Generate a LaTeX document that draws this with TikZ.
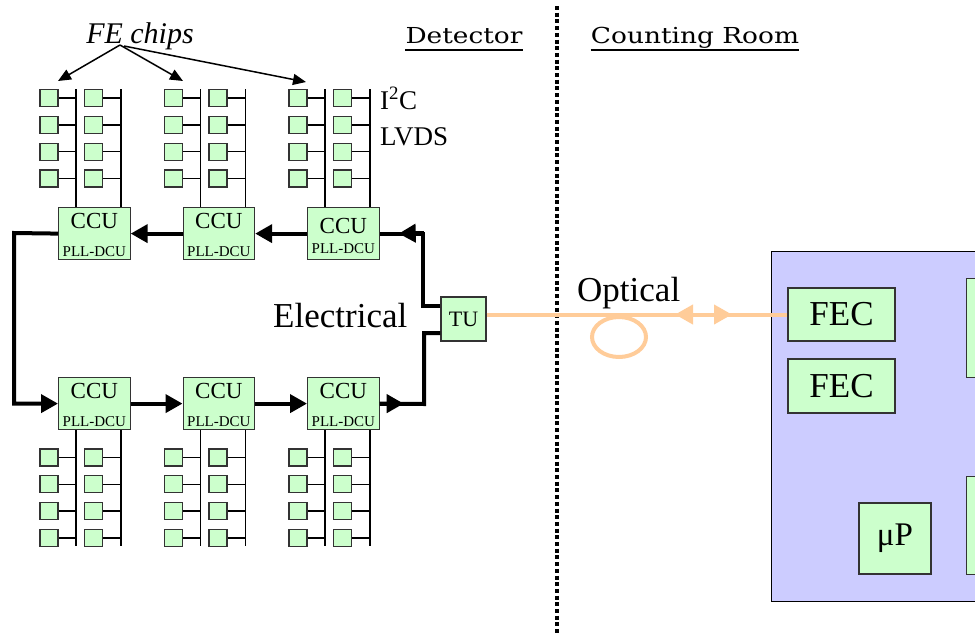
\documentclass[tikz,border=0pt]{standalone}
\usepackage{fontspec}
\setmainfont{Liberation Serif}
\newfontfamily\widefont[FakeStretch=1.2]{DejaVu Serif}
\usetikzlibrary{arrows.meta,calc}
\definecolor{chipg}{HTML}{CCFFCC}
\definecolor{panelb}{HTML}{CCCCFF}
\definecolor{optc}{HTML}{FFCC99}
\definecolor{edgec}{HTML}{333333}
\newcommand\myfs[1]{\fontsize{#1}{#1}\selectfont}
\begin{document}
\begin{tikzpicture}[x=1pt,y=-1pt,line join=miter,
  chip/.style={draw=edgec,fill=chipg,line width=1.2pt,minimum width=18pt,minimum height=17pt,inner sep=0pt},
  bus/.style={line width=1.6pt},
  ccubox/.style={draw=edgec,fill=chipg,line width=1.2pt,minimum width=71.5pt,minimum height=52pt,inner sep=0pt},
  ccutext/.style={inner sep=0pt,font=\myfs{23}},
  plltext/.style={inner sep=0pt,font=\myfs{15}},
  ring/.style={line width=4pt},
  ringarrow/.style={line width=4pt,-{Triangle[length=17pt,width=18pt]}},
  opt/.style={draw=optc,line width=4pt},
  optarrow/.style={draw=optc,line width=4pt,-{Triangle[length=18pt,width=19pt]}},
  bigbox/.style={draw=edgec,fill=chipg,line width=1.2pt,inner sep=0pt,font=\myfs{35}},
  hdr/.style={inner sep=0pt,font=\widefont\myfs{22}},
  feline/.style={line width=1.5pt,-{Triangle[length=13pt,width=11pt]}}
]
\useasboundingbox (0,0) rectangle (975,635);
\clip (0,0) rectangle (975,635);
\fill[white] (0,0) rectangle (975,635);

% right panel
\node[draw=black,fill=panelb,line width=1.2pt,anchor=north west,minimum width=240pt,minimum height=350pt,inner sep=0pt] (panel) at (771,251) {};
\node[bigbox,minimum width=107pt,minimum height=53pt] (fec1) at (841.5,314.5) {FEC};
\node[bigbox,minimum width=107pt,minimum height=54pt] (fec2) at (841.5,386) {FEC};
\node[bigbox,minimum width=72pt,minimum height=71pt,font=\myfs{33}] (up) at (895,538.5) {μP};
\node[bigbox,anchor=north west,minimum width=60pt,minimum height=99pt] (r1) at (966,278) {};
\node[bigbox,anchor=north west,minimum width=60pt,minimum height=98pt] (r2) at (966,476) {};

% dotted separator
\draw[line width=4pt,dash pattern=on 4pt off 2.7pt] (557,6) -- (557,635);

% headers
\node[hdr,anchor=base] (det) at (464,43) {Detector};
\node[hdr,anchor=base] (cnt) at (695,43) {Counting Room};
\draw[line width=1.6pt] ($(det.base west)+(0,7)$) -- ($(det.base east)+(0,7)$);
\draw[line width=1.6pt] ($(cnt.base west)+(0,7)$) -- ($(cnt.base east)+(0,7)$);

% CCU boxes and FE chips
\foreach \g in {1,2,3}{
  \pgfmathsetmacro{\L}{58+124.5*(\g-1)}
  \node[ccubox,anchor=north west] (t\g) at (\L,207) {};
  \node[ccubox,anchor=north west] (b\g) at (\L,377) {};
  \draw[bus] ($(t\g.north west)+(18,0)$) -- ++(0,-118);
  \draw[bus] ($(t\g.north west)+(63,0)$) -- ++(0,-118);
  \draw[bus] ($(b\g.south west)+(18,0)$) -- ++(0,116);
  \draw[bus] ($(b\g.south west)+(63,0)$) -- ++(0,116);
  \node[ccutext,anchor=base] (b\g-c) at ($(b\g.north)+(0,21)$) {CCU};
  \node[plltext,anchor=base] (b\g-p) at ($(b\g.north)+(0,49)$) {PLL-DCU};
  \foreach \c/\dx in {1/-9,2/35.5}{
    \foreach \r in {0,1,2,3}{
      \pgfmathsetmacro{\cx}{58+124.5*(\g-1)+\dx}
      \pgfmathsetmacro{\cyt}{98+26.8*\r}
      \pgfmathsetmacro{\cyb}{457.5+26.8*\r}
      \node[chip] (ct-\g-\c-\r) at (\cx,\cyt) {};
      \node[chip] (cb-\g-\c-\r) at (\cx,\cyb) {};
      \draw[bus] (ct-\g-\c-\r.east) -- ++(18,0);
      \draw[bus] (cb-\g-\c-\r.east) -- ++(18,0);
    }
  }
}
\node[ccutext,anchor=base] (t1-c) at ($(t1.north)+(0,21)$) {CCU};
\node[plltext,anchor=base] (t1-p) at ($(t1.north)+(0,49)$) {PLL-DCU};
\node[ccutext,anchor=base] (t2-c) at ($(t2.north)+(0,21)$) {CCU};
\node[plltext,anchor=base] (t2-p) at ($(t2.north)+(0,49)$) {PLL-DCU};
\node[ccutext,anchor=base] (t3-c) at ($(t3.north)+(0,26)$) {CCU};
\node[plltext,anchor=base] (t3-p) at ($(t3.north)+(0,46)$) {PLL-DCU};

% TU
\node[draw=edgec,fill=chipg,line width=1.2pt,minimum width=45pt,minimum height=44pt,inner sep=0pt,font=\myfs{22}] (tu) at (463.5,319) {TU};

% ring
\coordinate (lt) at (14,233);
\coordinate (rt) at (424,233);
\coordinate (rb) at (424,404);
\coordinate (tuA) at ($(tu.west)+(0,-13)$);
\coordinate (tuB) at ($(tu.west)+(0,14)$);
\draw[ringarrow] (t1.west) -- (lt) |- (b1.west);
\draw[ringarrow] (t2.west) -- (t1.east);
\draw[ringarrow] (t3.west) -- (t2.east);
\draw[ring] (tuA) -- ++(-17,0) |- (t3.east);
\draw[ringarrow] (rt) -- ($(t3.east)+(19,0)$);
\draw[ringarrow] (b1.east) -- (b2.west);
\draw[ringarrow] (b2.east) -- (b3.west);
\draw[ring] (b3.east) -- (rb) |- (tuB);
\draw[ringarrow] (b3.east) -- ($(b3.east)+(24,0)$);

% optical link
\draw[opt] (tu.east |- fec1.west) -- (fec1.west);
\draw[opt] (619,337) ellipse [x radius=27, y radius=20];
\coordinate (oa) at (705,314.5);
\coordinate (ob) at (690,314.5);
\draw[optarrow] (oa) -- (675,314.5);
\draw[optarrow] (ob) -- (732,314.5);

% labels
\node[inner sep=0pt,anchor=base west,font=\myfs{35}] (elec) at (273,327) {Electrical};
\node[inner sep=0pt,anchor=base west,font=\myfs{35}] (optl) at (577,301) {Optical};
\node[inner sep=0pt,anchor=base west,font=\myfs{27}] (i2c) at (380,109) {I\textsuperscript{2}C};
\node[inner sep=0pt,anchor=base west,font=\myfs{27}] (lvds) at (380,145) {LVDS};
\node[inner sep=0pt,anchor=base,font=\myfs{30}\itshape] (fe) at (140,43) {FE chips};
\coordinate (fo1) at (120,45);
\coordinate (fo2) at (124,46);
\coordinate (fa1) at (58,81);
\coordinate (fa2) at (183,81);
\coordinate (fa3) at (306,82);
\draw[feline] (fo1) -- (fa1);
\draw[feline] (fo1) -- (fa2);
\draw[feline] (fo2) -- (fa3);
\end{tikzpicture}
\end{document}
